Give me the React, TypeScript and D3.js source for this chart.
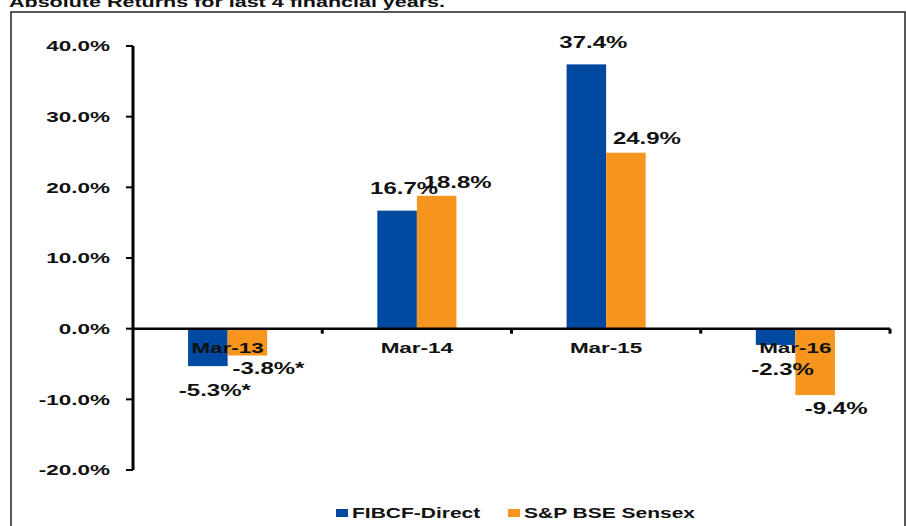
import React from "react";
import { scaleBand, scaleLinear } from "d3";

// Datos del gráfico
const categories = ["Mar-13", "Mar-14", "Mar-15", "Mar-16"];
const seriesNames = ["FIBCF-Direct", "S&P BSE Sensex"];
const fibcfValues = [-5.3, 16.7, 37.4, -2.3];
const sensexValues = [-3.8, 18.8, 24.9, -9.4];
const footnotes = ["*", "", "", ""];
const yTicks = [-20, -10, 0, 10, 20, 30, 40];
const title = "Absolute Returns for last 4 financial years.";

const colors = ["#0049A0", "#F7961E"];

// El original está estirado horizontalmente
const SX = 1.5;

const StretchText: React.FC<{
  x: number;
  y: number;
  size: number;
  anchor?: "start" | "middle" | "end";
  children: React.ReactNode;
}> = ({ x, y, size, anchor = "middle", children }) => (
  <g transform={`translate(${x},${y}) scale(${SX},1)`}>
    <text
      x={0}
      y={0}
      dy="0.36em"
      textAnchor={anchor}
      fontSize={size}
      fontWeight="bold"
      fontFamily="'Liberation Sans', Arial, sans-serif"
      fill="#111"
    >
      {children}
    </text>
  </g>
);

export default function App() {
  const width = 906;
  const height = 526;
  const plot = { left: 133, right: 890, top: 46, bottom: 470 };

  const y = scaleLinear().domain([-20, 40]).range([plot.bottom, plot.top]);
  const x = scaleBand<string>()
    .domain(categories)
    .range([plot.left, plot.right]);
  const groupW = x.bandwidth() * 0.418;
  const xs = scaleBand<string>().domain(seriesNames).range([0, groupW]);

  const series = [fibcfValues, sensexValues];
  const labelDx = [7, 21];
  const labelAbove = [22, 14];
  const labelBelow = [24, 13];

  return (
    <svg
      width={width}
      height={height}
      style={{ position: "absolute", left: 0, top: 0, background: "#fff" }}
    >
      {/* Título (cortado arriba) */}
      <text
        x={9}
        y={6.5}
        fontSize={15}
        fontWeight="bold"
        fontFamily="'Liberation Sans', Arial, sans-serif"
        textLength={436}
        lengthAdjust="spacingAndGlyphs"
        fill="#111"
      >
        {title}
      </text>
      {/* Marco */}
      <rect
        x={11}
        y={12}
        width={894}
        height={530}
        fill="none"
        stroke="#222"
        strokeWidth={1.5}
      />

      {/* Barras */}
      {series.map((vals, si) =>
        vals.map((v, i) => {
          const x0 =
            x(categories[i])! + (x.bandwidth() - groupW) / 2 + xs(seriesNames[si])!;
          return (
            <rect
              key={`b-${si}-${i}`}
              x={x0}
              y={Math.min(y(v), y(0))}
              width={xs.bandwidth()}
              height={Math.abs(y(v) - y(0))}
              fill={colors[si]}
            />
          );
        })
      )}

      {/* Eje Y */}
      <line x1={plot.left} x2={plot.left} y1={y(40)} y2={y(-20)} stroke="#000" strokeWidth={3} />
      {yTicks.map((t) => (
        <g key={t}>
          <line x1={plot.left - 7} x2={plot.left} y1={y(t)} y2={y(t)} stroke="#000" strokeWidth={2} />
          <StretchText x={110} y={y(t)} size={15} anchor="end">
            {`${t.toFixed(1)}%`}
          </StretchText>
        </g>
      ))}

      {/* Eje X en cero */}
      <line x1={plot.left} x2={plot.right} y1={y(0)} y2={y(0)} stroke="#000" strokeWidth={2.5} />
      {categories.map((c) => (
        <line
          key={`t-${c}`}
          x1={x(c)! + x.bandwidth()}
          x2={x(c)! + x.bandwidth()}
          y1={y(0)}
          y2={y(0) + 5}
          stroke="#000"
          strokeWidth={3}
        />
      ))}
      {categories.map((c) => (
        <StretchText key={`c-${c}`} x={x(c)! + x.bandwidth() / 2} y={y(0) + 19} size={15}>
          {c}
        </StretchText>
      ))}

      {/* Etiquetas de datos */}
      {series.map((vals, si) =>
        vals.map((v, i) => {
          const cx =
            x(categories[i])! +
            (x.bandwidth() - groupW) / 2 +
            xs(seriesNames[si])! +
            xs.bandwidth() / 2 +
            labelDx[si];
          const cy = v >= 0 ? y(v) - labelAbove[si] : y(v) + labelBelow[si];
          return (
            <StretchText key={`l-${si}-${i}`} x={cx} y={cy} size={16}>
              {`${v.toFixed(1)}%${footnotes[i]}`}
            </StretchText>
          );
        })
      )}

      {/* Leyenda */}
      {seriesNames.map((s, i) => {
        const lx = [336, 508][i];
        return (
          <g key={s}>
            <rect x={lx} y={509} width={12} height={8} fill={colors[i]} />
            <StretchText x={lx + 16} y={513} size={14} anchor="start">
              {s}
            </StretchText>
          </g>
        );
      })}
    </svg>
  );
}
